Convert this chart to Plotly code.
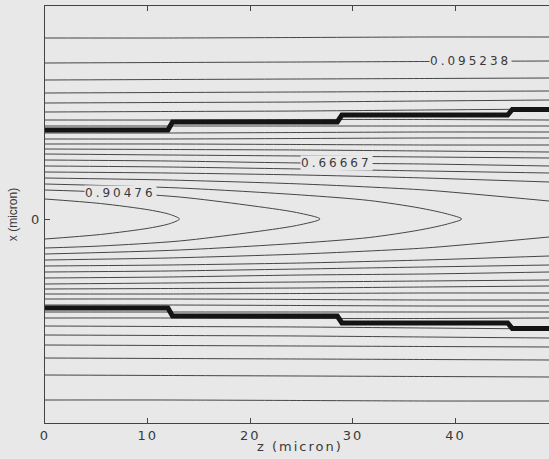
import plotly.graph_objects as go

# ---------------- data ----------------
# contour levels are k/21, k = 1..20
z_samples = [0.0, 12.0, 25.0, 37.0, 49.1]          # micron

# half-offsets (micron) of open contour lines at z_samples (mirrored about x=0)
level_01 = [3.62, 3.62, 3.63, 3.64, 3.64]
level_02 = [3.12, 3.13, 3.14, 3.15, 3.16]
level_03 = [2.78, 2.79, 2.80, 2.81, 2.82]
level_04 = [2.52, 2.53, 2.54, 2.55, 2.56]
level_05 = [2.32, 2.33, 2.34, 2.36, 2.38]
level_06 = [2.14, 2.15, 2.16, 2.18, 2.20]
level_07 = [1.98, 1.98, 1.99, 1.99, 1.98]
level_08 = [1.86, 1.86, 1.86, 1.86, 1.86]
level_09 = [1.72, 1.72, 1.73, 1.74, 1.74]
level_10 = [1.60, 1.60, 1.61, 1.62, 1.62]
level_11 = [1.50, 1.50, 1.49, 1.48, 1.48]
level_12 = [1.40, 1.39, 1.38, 1.36, 1.34]
level_13 = [1.30, 1.28, 1.26, 1.24, 1.22]
level_14 = [1.18, 1.16, 1.12, 1.10, 1.06]
level_15 = [1.06, 1.04, 1.00, 0.96, 0.92]
level_16 = [0.94, 0.92, 0.88, 0.82, 0.74]
level_17 = [0.82, 0.78, 0.70, 0.58, 0.36]

# closing contours (z, half-offset)
level_18_z = [0.0, 13.1, 25.0, 31.6, 36.5, 39.2, 40.6]
level_18_d = [0.70, 0.62, 0.48, 0.37, 0.22, 0.10, 0.0]
level_19_z = [0.0, 5.4, 13.1, 19.6, 24.5, 26.8]
level_19_d = [0.58, 0.54, 0.44, 0.28, 0.13, 0.0]
level_20_z = [0.0, 5.4, 10.2, 12.2, 13.1]
level_20_d = [0.40, 0.31, 0.18, 0.09, 0.0]

# waveguide boundary (stepped taper)
guide_half_width = [1.78, 1.94, 2.08, 2.19]
guide_step_z = [12.2, 28.7, 45.3]
guide_step_len = 0.45

# contour labels: text, z, x
label_text = ["0.90476", "0.66667", "0.095238"]
label_z = [7.4, 28.4, 41.5]
label_x = [0.52, 1.12, 3.16]

x_ticks = [0, 10, 20, 30, 40]
y_ticks = [0]

# ---------------- figure ----------------
BG = "#e8e8e8"
LINE = "#454545"
TEXT = "#3a3a3a"
FONT = "DejaVu Sans"

def spaced(s, sp=2):
    return f'<span style="letter-spacing:{sp}px">{s}</span>'

fig = go.Figure()

open_levels = [level_01, level_02, level_03, level_04, level_05, level_06,
               level_07, level_08, level_09, level_10, level_11, level_12,
               level_13, level_14, level_15, level_16, level_17]
for d in open_levels:
    for sgn in (1, -1):
        fig.add_trace(go.Scatter(
            x=z_samples, y=[sgn * v for v in d], mode="lines",
            line=dict(color=LINE, width=1, shape="spline", smoothing=0.6),
            hoverinfo="skip", showlegend=False))

for zs, ds in [(level_18_z, level_18_d), (level_19_z, level_19_d), (level_20_z, level_20_d)]:
    zz = zs + zs[-2::-1]
    yy = ds + [-v for v in ds[-2::-1]]
    fig.add_trace(go.Scatter(
        x=zz, y=yy, mode="lines",
        line=dict(color=LINE, width=1, shape="spline", smoothing=0.8),
        hoverinfo="skip", showlegend=False))

# waveguide boundaries
gz = [0.0]
gw = [guide_half_width[0]]
for i, zs in enumerate(guide_step_z):
    gz += [zs - guide_step_len / 2, zs + guide_step_len / 2]
    gw += [guide_half_width[i], guide_half_width[i + 1]]
gz.append(49.1)
gw.append(guide_half_width[-1])
for sgn in (1, -1):
    fig.add_trace(go.Scatter(
        x=gz, y=[sgn * v for v in gw], mode="lines",
        line=dict(color="#141414", width=5),
        hoverinfo="skip", showlegend=False))

for t, z, x in zip(label_text, label_z, label_x):
    fig.add_annotation(x=z, y=x, text=spaced(t, 3), showarrow=False,
                       font=dict(family=FONT, size=12, color=TEXT),
                       bgcolor=BG, borderpad=0)

fig.add_annotation(x=0.506, y=-(446 - 423) / 417, xref="paper", yref="paper",
                   yanchor="middle", text=spaced("z (micron)", 2),
                   showarrow=False, font=dict(family=FONT, size=13, color=TEXT))

fig.update_layout(
    width=549, height=459,
    margin=dict(l=45, r=0, t=6, b=36),
    paper_bgcolor=BG, plot_bgcolor=BG,
    showlegend=False,
    xaxis=dict(range=[0, 49.1], showgrid=False, zeroline=False,
               showline=True, linecolor="#444", linewidth=1, mirror="ticks",
               ticks="inside", ticklen=5, tickcolor="#444",
               tickvals=x_ticks, ticktext=[spaced(str(v), 2) for v in x_ticks],
               tickfont=dict(family=FONT, size=13, color=TEXT)),
    yaxis=dict(range=[-4.08, 4.26], showgrid=False, zeroline=False,
               showline=True, linecolor="#444", linewidth=1,
               ticks="inside", ticklen=5, tickcolor="#444",
               tickvals=y_ticks, ticktext=[spaced(str(v), 2) for v in y_ticks],
               tickfont=dict(family=FONT, size=13, color=TEXT),
               title=dict(text="x (micron)", standoff=10,
                          font=dict(family="Liberation Sans", size=12, color=TEXT))),
)

fig.write_html("out.html", config={"displayModeBar": False},
               post_script="document.body.style.margin='0px';")
